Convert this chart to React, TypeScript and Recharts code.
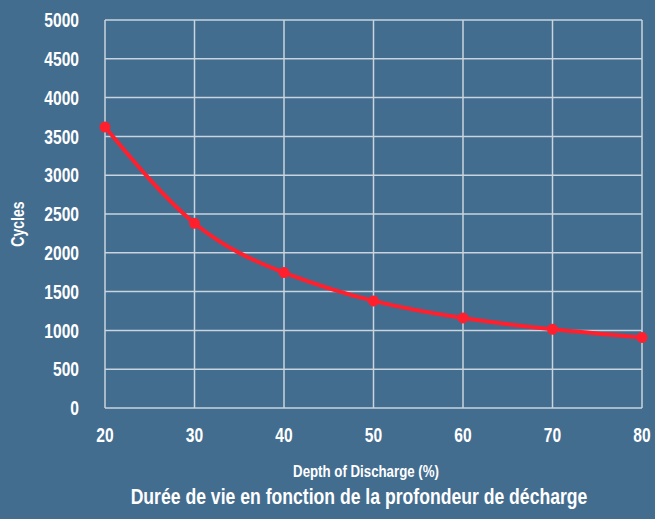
import React from 'react';
import { LineChart, Line, XAxis, YAxis, CartesianGrid } from 'recharts';

const depth = [20, 30, 40, 50, 60, 70, 80];
const cycles = [3620, 2380, 1745, 1380, 1160, 1015, 910];
const yTicks = [0, 500, 1000, 1500, 2000, 2500, 3000, 3500, 4000, 4500, 5000];

const data = depth.map((d, i) => ({ depth: d, cycles: cycles[i] }));

const font = '"Liberation Sans", Arial, sans-serif';
const bg = '#436d8f';
const squeeze = 0.78;

// narrow tick text, the reference uses a condensed face
const XTick = (props: any) => {
  const { x, y, payload } = props;
  return (
    <text
      transform={`translate(${x},${y}) scale(${squeeze},1)`}
      textAnchor="middle"
      dy="0.71em"
      fill="#ffffff"
      fontSize={20}
      fontWeight={700}
      fontFamily={font}
    >
      {payload.value}
    </text>
  );
};

const YTick = (props: any) => {
  const { x, y, payload } = props;
  return (
    <text
      transform={`translate(${x},${y}) scale(${squeeze},1)`}
      textAnchor="end"
      dy="0.355em"
      fill="#ffffff"
      fontSize={20}
      fontWeight={700}
      fontFamily={font}
    >
      {payload.value}
    </text>
  );
};

const label = (left: number, top: number, size: number, rotate = 0, sx = squeeze): React.CSSProperties => ({
  position: 'absolute',
  left,
  top,
  whiteSpace: 'nowrap',
  lineHeight: 1,
  color: '#ffffff',
  fontSize: size,
  fontWeight: 700,
  transform: `translate(-50%,-50%) rotate(${rotate}deg) scale(${sx},1)`,
});

const App = () => {
  return (
    <div
      style={{
        position: 'fixed',
        left: 0,
        top: 0,
        width: 655,
        height: 519,
        background: bg,
        fontFamily: font,
      }}
    >
      <LineChart width={655} height={519} data={data} margin={{ top: 20, right: 13, left: 0, bottom: 0 }}>
        <CartesianGrid stroke="#c8d4de" strokeWidth={1.5} />
        <XAxis
          dataKey="depth"
          type="number"
          domain={[20, 80]}
          ticks={depth}
          height={111}
          axisLine={false}
          tickLine={false}
          tickMargin={14}
          tick={<XTick />}
        />
        <YAxis
          type="number"
          domain={[0, 5000]}
          ticks={yTicks}
          width={105}
          axisLine={false}
          tickLine={false}
          tickMargin={20}
          tick={<YTick />}
        />
        <Line
          type="natural"
          dataKey="cycles"
          stroke="#ff1f2d"
          strokeWidth={4}
          dot={{ r: 5.5, fill: '#ff1f2d', stroke: '#ff1f2d', strokeWidth: 0 }}
          isAnimationActive={false}
        />
      </LineChart>
      <div style={label(18, 224, 18, -90)}>Cycles</div>
      <div style={label(366, 471, 17)}>Depth of Discharge (%)</div>
      <div style={label(359, 497, 22, 0, 0.8)}>Durée de vie en fonction de la profondeur de décharge</div>
    </div>
  );
};

export default App;
